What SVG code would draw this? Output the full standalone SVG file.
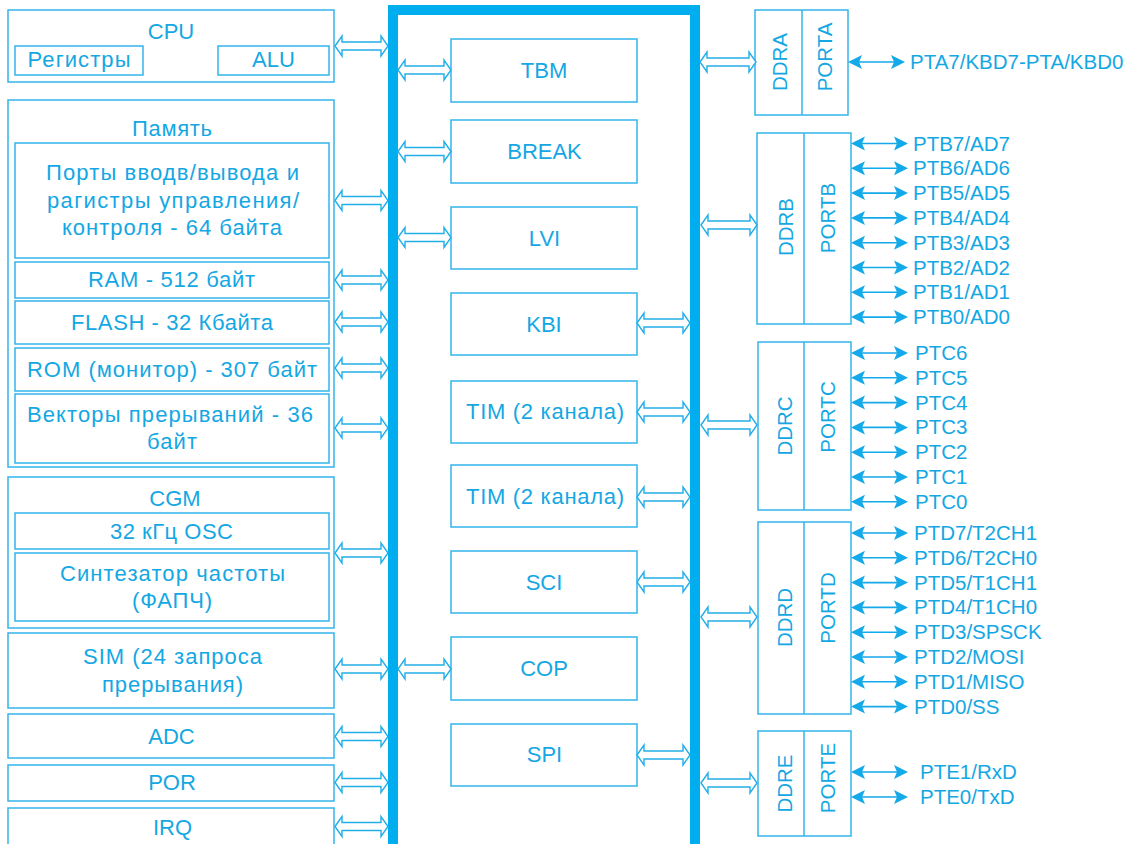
<svg xmlns="http://www.w3.org/2000/svg" xmlns:xlink="http://www.w3.org/1999/xlink" width="1135" height="844" viewBox="0 0 1135 844">
<style>
.box{fill:#fff;stroke:#33B5EA;stroke-width:1.5}
.ln{fill:none;stroke:#33B5EA;stroke-width:1.5}
.t{font-family:"Liberation Sans",Arial,sans-serif;fill:#14A7E3;text-anchor:middle}
.l{font-size:22px}
.c{font-size:22px}
.r{font-size:20.5px;text-anchor:start}
.v{font-size:20.5px}
.ha{fill:#fff;stroke:#22AEE8;stroke-width:1.4;stroke-linejoin:miter}
.sa{fill:#14A9E8}
.sl{stroke:#14A9E8;stroke-width:1.6}
</style>
<defs>
<path id="ha53" class="ha" d="M0,0 L7,-10 L7,-4 L46,-4 L46,-10 L53,0 L46,10 L46,4 L7,4 L7,10 Z"/>
<path id="ha56" class="ha" d="M0,0 L7,-10 L7,-4 L49,-4 L49,-10 L56,0 L49,10 L49,4 L7,4 L7,10 Z"/>
<g id="dbl">
<line class="sl" x1="6" y1="0" x2="51" y2="0"/>
<path class="sa" d="M0,0 L14,-7 L11,0 L14,7 Z"/>
<path class="sa" d="M57,0 L43,-7 L46,0 L43,7 Z"/>
</g>
</defs>

<g id="bus">
<path d="M393,844 L393,10 L695,10 L695,844" fill="none" stroke="#00AEEF" stroke-width="10"/>
</g>

<g id="cpu">
<rect class="box" x="8" y="10" width="326" height="72"/>
<text class="t l" x="171" y="39">CPU</text>
<rect class="box" x="15" y="46" width="128" height="29"/>
<text class="t l" x="79" y="67" textLength="103" lengthAdjust="spacing">Регистры</text>
<rect class="box" x="218" y="46" width="111" height="29"/>
<text class="t l" x="273.5" y="67">ALU</text>
</g>

<g id="memory">
<rect class="box" x="8" y="100" width="326" height="367"/>
<text class="t l" x="172" y="136" textLength="80" lengthAdjust="spacing">Память</text>
<g id="ports-regs">
<rect class="box" x="15" y="143" width="314" height="115"/>
<text class="t l" x="172.5" y="180" textLength="253" lengthAdjust="spacing">Порты вводв/вывода и</text>
<text class="t l" x="173" y="207.5" textLength="252" lengthAdjust="spacing">рагистры управления/</text>
<text class="t l" x="172" y="235" textLength="220" lengthAdjust="spacing">контроля - 64 байта</text>
</g>
<g id="ram">
<rect class="box" x="15" y="262" width="314" height="36"/>
<text class="t l" x="171.5" y="286.5" textLength="167" lengthAdjust="spacing">RAM - 512 байт</text>
</g>
<g id="flash">
<rect class="box" x="15" y="301" width="314" height="43"/>
<text class="t l" x="172" y="329.5" textLength="202" lengthAdjust="spacing">FLASH - 32 Кбайта</text>
</g>
<g id="rom">
<rect class="box" x="15" y="348" width="314" height="43"/>
<text class="t l" x="172" y="376.5" textLength="290" lengthAdjust="spacing">ROM (монитор) - 307 байт</text>
</g>
<g id="vectors">
<rect class="box" x="15" y="394" width="314" height="69"/>
<text class="t l" x="170" y="421.5" textLength="286" lengthAdjust="spacing">Векторы прерываний - 36</text>
<text class="t l" x="172" y="448.5" textLength="50" lengthAdjust="spacing">байт</text>
</g>
</g>

<g id="cgm">
<rect class="box" x="8" y="477" width="326" height="151"/>
<text class="t l" x="175" y="506">CGM</text>
<rect class="box" x="15" y="513" width="314" height="36"/>
<text class="t l" x="171.5" y="538.5" textLength="123" lengthAdjust="spacing">32 кГц OSC</text>
<rect class="box" x="15" y="553" width="314" height="68"/>
<text class="t l" x="172.5" y="580.5" textLength="225" lengthAdjust="spacing">Синтезатор частоты</text>
<text class="t l" x="172" y="608" textLength="80" lengthAdjust="spacing">(ФАПЧ)</text>
</g>

<g id="sim">
<rect class="box" x="8" y="633" width="326" height="75"/>
<text class="t l" x="172.5" y="663.5" textLength="179" lengthAdjust="spacing">SIM (24 запроса</text>
<text class="t l" x="172.5" y="692" textLength="141" lengthAdjust="spacing">прерывания)</text>
</g>
<g id="adc">
<rect class="box" x="8" y="714" width="326" height="44"/>
<text class="t l" x="171.5" y="743.5">ADC</text>
</g>
<g id="por">
<rect class="box" x="8" y="765" width="326" height="36"/>
<text class="t l" x="172" y="790">POR</text>
</g>
<g id="irq">
<rect class="box" x="8" y="808" width="326" height="40"/>
<text class="t l" x="172.5" y="835">IRQ</text>
</g>

<g id="tbm"><rect class="box" x="451" y="39" width="186" height="63"/><text class="t c" x="544" y="78">TBM</text></g>
<g id="break"><rect class="box" x="451" y="120" width="186" height="63"/><text class="t c" x="544.5" y="159">BREAK</text></g>
<g id="lvi"><rect class="box" x="451" y="207" width="186" height="62"/><text class="t c" x="544.5" y="245.5">LVI</text></g>
<g id="kbi"><rect class="box" x="451" y="293" width="186" height="62"/><text class="t c" x="544" y="331.5">KBI</text></g>
<g id="tim1"><rect class="box" x="451" y="381" width="186" height="62"/><text class="t c" x="545" y="419" textLength="158" lengthAdjust="spacing">TIM (2 канала)</text></g>
<g id="tim2"><rect class="box" x="451" y="465" width="186" height="62"/><text class="t c" x="545" y="503.5" textLength="158" lengthAdjust="spacing">TIM (2 канала)</text></g>
<g id="sci"><rect class="box" x="451" y="551" width="186" height="62"/><text class="t c" x="544" y="589.5">SCI</text></g>
<g id="cop"><rect class="box" x="451" y="637" width="186" height="63"/><text class="t c" x="544" y="676">COP</text></g>
<g id="spi"><rect class="box" x="451" y="724" width="186" height="62"/><text class="t c" x="544.5" y="762">SPI</text></g>

<g id="porta">
<rect class="box" x="755" y="10" width="93" height="105"/>
<line class="ln" x1="802" y1="10" x2="802" y2="115"/>
<text class="t v" transform="translate(787,62) rotate(-90)">DDRA</text>
<text class="t v" transform="translate(832,57) rotate(-90)">PORTA</text>
</g>
<g id="portb">
<rect class="box" x="757" y="133" width="94" height="191"/>
<line class="ln" x1="804" y1="133" x2="804" y2="324"/>
<text class="t v" transform="translate(793,227) rotate(-90)">DDRB</text>
<text class="t v" transform="translate(835,218) rotate(-90)">PORTB</text>
</g>
<g id="portc">
<rect class="box" x="758" y="342" width="93" height="168"/>
<line class="ln" x1="804" y1="342" x2="804" y2="510"/>
<text class="t v" transform="translate(792,426) rotate(-90)">DDRC</text>
<text class="t v" transform="translate(835,417) rotate(-90)">PORTC</text>
</g>
<g id="portd">
<rect class="box" x="758" y="522" width="93" height="192"/>
<line class="ln" x1="804" y1="522" x2="804" y2="714"/>
<text class="t v" transform="translate(792,617.5) rotate(-90)">DDRD</text>
<text class="t v" transform="translate(835,608) rotate(-90)">PORTD</text>
</g>
<g id="porte">
<rect class="box" x="758" y="731" width="93" height="105"/>
<line class="ln" x1="804" y1="731" x2="804" y2="836"/>
<text class="t v" transform="translate(792,783.5) rotate(-90)">DDRE</text>
<text class="t v" transform="translate(835,778) rotate(-90)">PORTE</text>
</g>

<g id="connectors">
<use href="#ha53" x="335" y="46"/>
<use href="#ha53" x="335" y="200.5"/>
<use href="#ha53" x="335" y="280"/>
<use href="#ha53" x="335" y="322"/>
<use href="#ha53" x="335" y="368"/>
<use href="#ha53" x="335" y="428"/>
<use href="#ha53" x="335" y="553"/>
<use href="#ha53" x="335" y="669"/>
<use href="#ha53" x="335" y="736.5"/>
<use href="#ha53" x="335" y="782.5"/>
<use href="#ha53" x="335" y="826.5"/>

<use href="#ha53" x="398" y="70"/>
<use href="#ha53" x="398" y="151.5"/>
<use href="#ha53" x="398" y="237.5"/>
<use href="#ha53" x="398" y="669"/>

<use href="#ha53" x="637" y="323"/>
<use href="#ha53" x="637" y="412"/>
<use href="#ha53" x="637" y="497"/>
<use href="#ha53" x="637" y="582"/>
<use href="#ha53" x="637" y="755"/>

<use href="#ha56" x="700" y="62"/>
<use href="#ha56" x="701" y="225"/>
<use href="#ha56" x="701" y="425"/>
<use href="#ha56" x="701" y="617"/>
<use href="#ha56" x="701" y="783"/>

<use href="#dbl" x="848" y="62"/>

<use href="#dbl" x="851" y="143.5"/>
<use href="#dbl" x="851" y="168.3"/>
<use href="#dbl" x="851" y="193.1"/>
<use href="#dbl" x="851" y="217.9"/>
<use href="#dbl" x="851" y="242.7"/>
<use href="#dbl" x="851" y="267.5"/>
<use href="#dbl" x="851" y="292.3"/>
<use href="#dbl" x="851" y="317.1"/>

<use href="#dbl" x="851" y="353"/>
<use href="#dbl" x="851" y="377.8"/>
<use href="#dbl" x="851" y="402.6"/>
<use href="#dbl" x="851" y="427.4"/>
<use href="#dbl" x="851" y="452.2"/>
<use href="#dbl" x="851" y="477"/>
<use href="#dbl" x="851" y="501.8"/>

<use href="#dbl" x="851" y="533"/>
<use href="#dbl" x="851" y="557.8"/>
<use href="#dbl" x="851" y="582.6"/>
<use href="#dbl" x="851" y="607.4"/>
<use href="#dbl" x="851" y="632.2"/>
<use href="#dbl" x="851" y="657"/>
<use href="#dbl" x="851" y="681.8"/>
<use href="#dbl" x="851" y="706.6"/>

<use href="#dbl" x="851" y="772"/>
<use href="#dbl" x="851" y="797"/>
</g>

<g id="pin-labels">
<text class="t r" x="910" y="69">PTA7/KBD7-PTA/KBD0</text>
<text class="t r" x="913" y="150.5">PTB7/AD7</text>
<text class="t r" x="913" y="175.3">PTB6/AD6</text>
<text class="t r" x="913" y="200.1">PTB5/AD5</text>
<text class="t r" x="913" y="224.9">PTB4/AD4</text>
<text class="t r" x="913" y="249.7">PTB3/AD3</text>
<text class="t r" x="913" y="274.5">PTB2/AD2</text>
<text class="t r" x="913" y="299.3">PTB1/AD1</text>
<text class="t r" x="913" y="324.1">PTB0/AD0</text>
<text class="t r" x="915" y="360">PTC6</text>
<text class="t r" x="915" y="384.8">PTC5</text>
<text class="t r" x="915" y="409.6">PTC4</text>
<text class="t r" x="915" y="434.4">PTC3</text>
<text class="t r" x="915" y="459.2">PTC2</text>
<text class="t r" x="915" y="484">PTC1</text>
<text class="t r" x="915" y="508.8">PTC0</text>
<text class="t r" x="914" y="540">PTD7/T2CH1</text>
<text class="t r" x="914" y="564.8">PTD6/T2CH0</text>
<text class="t r" x="914" y="589.6">PTD5/T1CH1</text>
<text class="t r" x="914" y="614.4">PTD4/T1CH0</text>
<text class="t r" x="914" y="639.2">PTD3/SPSCK</text>
<text class="t r" x="914" y="664">PTD2/MOSI</text>
<text class="t r" x="914" y="688.8">PTD1/MISO</text>
<text class="t r" x="914" y="713.6">PTD0/SS</text>
<text class="t r" x="920" y="779">PTE1/RxD</text>
<text class="t r" x="920" y="804">PTE0/TxD</text>
</g>
</svg>
